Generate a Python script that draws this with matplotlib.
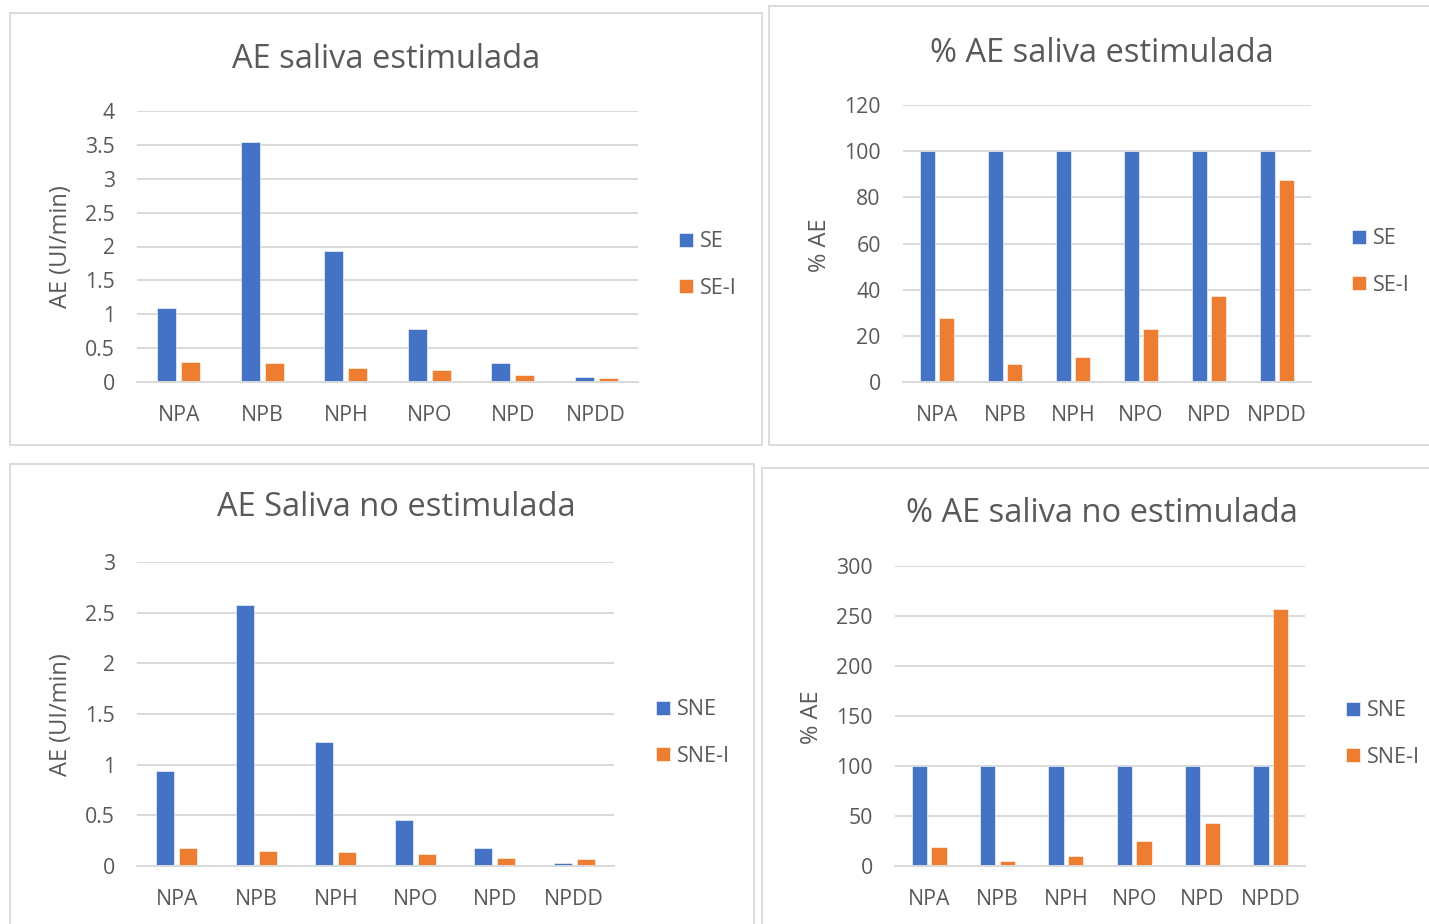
import matplotlib.pyplot as plt
from matplotlib.patches import Rectangle

plt.rcParams['font.family'] = ['Open Sans', 'DejaVu Sans']

categorias = ['NPA', 'NPB', 'NPH', 'NPO', 'NPD', 'NPDD']

# AE (UI/min), saliva estimulada
se = [1.09, 3.54, 1.93, 0.78, 0.28, 0.074]
se_i = [0.295, 0.275, 0.20, 0.17, 0.10, 0.064]

# % AE, saliva estimulada
pct_se = [100, 100, 100, 100, 100, 100]
pct_se_i = [27.8, 7.8, 10.8, 22.8, 37.4, 87.6]

# AE (UI/min), saliva no estimulada
sne = [0.934, 2.58, 1.22, 0.455, 0.178, 0.028]
sne_i = [0.178, 0.145, 0.135, 0.12, 0.076, 0.073]

# % AE, saliva no estimulada
pct_sne = [100, 100, 100, 100, 100, 100]
pct_sne_i = [19, 5, 10.5, 25, 43, 257]

AZUL = '#4472c4'
NARANJA = '#ed7d31'
GRIS_TEXTO = '#595959'
GRIS_LINEA = '#d9d9d9'

W, H = 1429, 924
fig = plt.figure(figsize=(W / 100, H / 100), dpi=100)


def fx(px):
    return px / W


def fy(py):
    return 1 - py / H


def marco(x0, y0, x1, y1):
    fig.patches.append(Rectangle((fx(x0), fy(y1)), fx(x1) - fx(x0), fy(y0) - fy(y1),
                                 transform=fig.transFigure, fill=False,
                                 edgecolor=GRIS_LINEA, lw=1.3))


def panel(caja, serie1, serie2, nombres, ymax, paso, titulo, titulo_xy,
          ylabel, ylabel_xy, leyenda_xy):
    left, top, right, bottom = caja
    ax = fig.add_axes([fx(left), fy(bottom), fx(right) - fx(left), fy(top) - fy(bottom)])
    x = range(len(categorias))
    ancho = 0.225
    desp = 0.143
    b1 = ax.bar([i - desp for i in x], serie1, ancho, color=AZUL,
                edgecolor='white', linewidth=0.4, label=nombres[0], zorder=3)
    b2 = ax.bar([i + desp for i in x], serie2, ancho, color=NARANJA,
                edgecolor='white', linewidth=0.4, label=nombres[1], zorder=3)
    ax.set_xlim(-0.5, len(categorias) - 0.5)
    ax.set_ylim(0, ymax)
    ticks = [paso * k for k in range(int(round(ymax / paso)) + 1)]
    ax.set_yticks(ticks)
    ax.set_yticklabels([f'{t:g}' for t in ticks])
    ax.set_xticks(list(x))
    ax.set_xticklabels(categorias)
    ax.tick_params(length=0, labelsize=15.3, colors=GRIS_TEXTO)
    ax.tick_params(axis='x', pad=16.5)
    ax.tick_params(axis='y', pad=16)
    ax.grid(axis='y', color=GRIS_LINEA, lw=1.4, zorder=0)
    for lado in ['top', 'right', 'left']:
        ax.spines[lado].set_visible(False)
    ax.spines['bottom'].set_color(GRIS_LINEA)
    ax.spines['bottom'].set_linewidth(1.4)
    ax.spines['bottom'].set_zorder(4)

    fig.text(fx(titulo_xy[0]), fy(titulo_xy[1]), titulo, ha='center', va='center',
             fontsize=23.5, color=GRIS_TEXTO)
    fig.text(fx(ylabel_xy[0]), fy(ylabel_xy[1]), ylabel, ha='center', va='center',
             rotation=90, fontsize=17, color=GRIS_TEXTO)
    ax.legend(handles=[b1, b2], loc='center left',
              bbox_to_anchor=(fx(leyenda_xy[0]), fy(leyenda_xy[1])),
              bbox_transform=fig.transFigure, frameon=False, fontsize=15.5,
              labelcolor=GRIS_TEXTO, handlelength=0.65, handleheight=0.65,
              handletextpad=0.3, labelspacing=1.17, borderpad=0, borderaxespad=0)
    return ax


marco(10, 13, 762, 445)
marco(769, 6, 1440, 445)
marco(10, 464, 754, 940)
marco(762, 468, 1440, 940)

panel((137, 111, 638, 382), se, se_i, ['SE', 'SE-I'], 4, 0.5,
      'AE saliva estimulada', (386, 59), 'AE (UI/min)', (61, 247), (679, 265))
panel((903, 105, 1311, 382), pct_se, pct_se_i, ['SE', 'SE-I'], 120, 20,
      '% AE saliva estimulada', (1102, 53), '% AE', (820, 245), (1352, 262))
panel((137, 562, 614, 866), sne, sne_i, ['SNE', 'SNE-I'], 3, 0.5,
      'AE Saliva no estimulada', (396, 507), 'AE (UI/min)', (61, 715), (656, 733))
panel((895, 566, 1305, 866), pct_sne, pct_sne_i, ['SNE', 'SNE-I'], 300, 50,
      '% AE saliva no estimulada', (1102, 513), '% AE', (812, 717), (1346, 734))

fig.savefig('out.png', dpi=100, facecolor='white')
